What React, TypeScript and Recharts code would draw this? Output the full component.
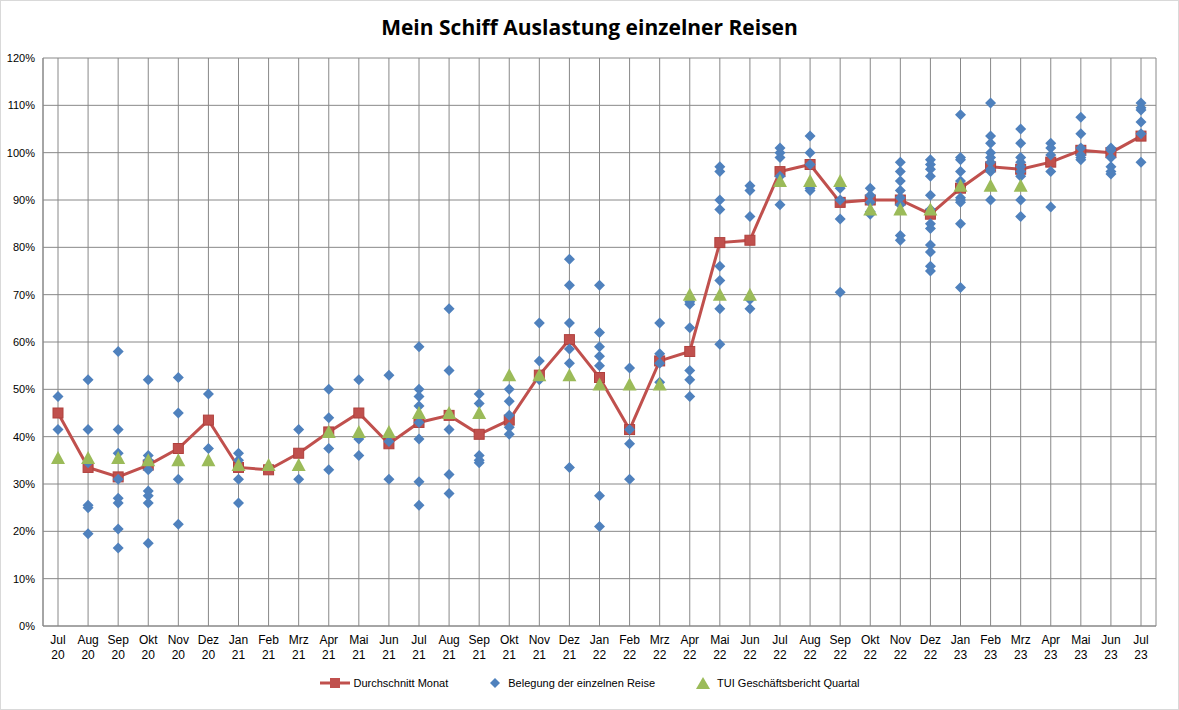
import React from 'react';
import { ComposedChart, Line, Scatter, XAxis, YAxis, CartesianGrid } from 'recharts';

const months = ['Jul 20', 'Aug 20', 'Sep 20', 'Okt 20', 'Nov 20', 'Dez 20', 'Jan 21', 'Feb 21', 'Mrz 21', 'Apr 21', 'Mai 21', 'Jun 21', 'Jul 21', 'Aug 21', 'Sep 21', 'Okt 21', 'Nov 21', 'Dez 21', 'Jan 22', 'Feb 22', 'Mrz 22', 'Apr 22', 'Mai 22', 'Jun 22', 'Jul 22', 'Aug 22', 'Sep 22', 'Okt 22', 'Nov 22', 'Dez 22', 'Jan 23', 'Feb 23', 'Mrz 23', 'Apr 23', 'Mai 23', 'Jun 23', 'Jul 23'];

const durchschnitt = [45, 33.5, 31.5, 34, 37.5, 43.5, 33.5, 33, 36.5, 41, 45, 38.5, 43, 44.5, 40.5, 43.5, 53, 60.5, 52.5, 41.5, 56, 58, 81, 81.5, 96, 97.5, 89.5, 90, 90, 87, 92.5, 97, 96.5, 98, 100.5, 100, 103.5];

const tuiQuartal: (number | null)[] = [35.5, 35.5, 35.5, 35, 35, 35, 34, 34, 34, 41, 41, 41, 45, 45, 45, 53, 53, 53, 51, 51, 51, 70, 70, 70, 94, 94, 94, 88, 88, 88, 93, 93, 93, null, null, null, null];

const reisen: number[][] = [
  [48.5, 41.5],
  [52, 41.5, 34.5, 25.5, 25, 19.5],
  [58, 41.5, 36.5, 31, 27, 26, 20.5, 16.5],
  [52, 36, 35, 33, 28.5, 27.5, 26, 17.5],
  [52.5, 45, 31, 21.5],
  [49, 37.5],
  [36.5, 35, 31, 26],
  [],
  [41.5, 31],
  [50, 44, 37.5, 33],
  [52, 39.5, 36],
  [53, 39, 31],
  [59, 50, 48.5, 46.5, 43, 39.5, 30.5, 25.5],
  [67, 54, 41.5, 32, 28],
  [49, 47, 36, 35, 34.5],
  [50, 47.5, 44.5, 42, 40.5],
  [64, 56, 52],
  [77.5, 72, 64, 58.5, 55.5, 33.5],
  [72, 62, 59, 57, 55, 27.5, 21],
  [54.5, 41.5, 38.5, 31],
  [64, 57.5, 55.5, 51.5],
  [68.5, 68, 63, 54, 52, 48.5],
  [97, 96, 90, 88, 76, 73, 67, 59.5],
  [93, 92, 86.5, 69, 67],
  [101, 100, 99, 95, 89],
  [103.5, 100, 97.5, 92.5, 92],
  [93, 92.5, 90, 86, 70.5],
  [92.5, 91, 89.5, 87.5, 87],
  [98, 96, 94, 92, 90.5, 89, 82.5, 81.5],
  [98.5, 97.5, 96.5, 95, 91, 88, 85, 84, 80.5, 79, 76, 75],
  [108, 99, 98.5, 96, 94, 90.5, 90, 89.5, 85, 71.5],
  [110.5, 103.5, 102, 100, 99, 98, 96.5, 96, 90],
  [105, 102, 99, 98, 97, 96, 95, 90, 86.5],
  [102, 101, 99.5, 96, 88.5],
  [107.5, 104, 101, 99.5, 99, 98.5],
  [101, 100.5, 99, 97, 96, 95.5],
  [110.5, 109.5, 109, 106.5, 104, 98],
];

const yTicks = [0, 10, 20, 30, 40, 50, 60, 70, 80, 90, 100, 110, 120];

const maxReisen = Math.max(...reisen.map((r) => r.length));
const reiseKeys = Array.from({ length: maxReisen }, (_, i) => `r${i}`);

const data = months.map((m, i) => {
  const row: Record<string, any> = { month: m, avg: durchschnitt[i], tui: tuiQuartal[i] };
  reisen[i].forEach((v, k) => { row[`r${k}`] = v; });
  return row;
});

const FONT = '"Liberation Sans", Arial, sans-serif';

const MonthTick = (props: any) => {
  const { x, y, payload } = props;
  const [m, yr] = String(payload.value).split(' ');
  return (
    <text x={x} y={y + 10} textAnchor="middle" fontSize={12} fill="#000" fontFamily={FONT}>
      <tspan x={x} dy={0}>{m}</tspan>
      <tspan x={x} dy={15}>{yr}</tspan>
    </text>
  );
};

const Square = (props: any) => {
  const { cx, cy } = props;
  if (cx == null || cy == null) return null;
  return <rect x={cx - 5} y={cy - 5} width={10} height={10} fill="#c0504d" stroke="#b0403d" />;
};

const Triangle = (props: any) => {
  const { cx, cy } = props;
  if (cx == null || cy == null) return null;
  return <polygon points={`${cx},${cy - 7} ${cx + 7},${cy + 6} ${cx - 7},${cy + 6}`} fill="#9bbb59" />;
};

const Diamond = (props: any) => {
  const { cx, cy } = props;
  if (cx == null || cy == null) return null;
  return <polygon points={`${cx},${cy - 5.5} ${cx + 5.5},${cy} ${cx},${cy + 5.5} ${cx - 5.5},${cy}`} fill="#4f81bd" />;
};

export default function App() {
  return (
    <div style={{ position: 'absolute', left: 0, top: 0, width: 1179, height: 710, background: '#fff', border: '1px solid #d9d9d9', boxSizing: 'border-box', fontFamily: FONT }}>
      <div style={{ position: 'absolute', top: 12, width: '100%', textAlign: 'center', fontSize: 21, fontWeight: 'bold', fontFamily: '"Open Sans", sans-serif' }}>
        Mein Schiff Auslastung einzelner Reisen
      </div>
      <ComposedChart width={1179} height={710} data={data} margin={{ top: 57, right: 24, bottom: 55, left: 0 }}>
        <CartesianGrid stroke="#888" strokeWidth={1} />
        <XAxis dataKey="month" interval={0} padding={{ left: 15, right: 15 }} height={30} tick={<MonthTick />} axisLine={{ stroke: '#888' }} tickLine={false} />
        <YAxis domain={[0, 120]} ticks={yTicks} width={42} tickFormatter={(v) => `${v}%`} tick={{ fontSize: 11, fill: '#000', fontFamily: FONT }} axisLine={{ stroke: '#888' }} tickLine={false} />
        <YAxis yAxisId="r" orientation="right" domain={[0, 120]} width={0} tick={false} axisLine={{ stroke: '#888' }} tickLine={false} />
        <Line dataKey="avg" stroke="#c0504d" strokeWidth={3} dot={<Square />} isAnimationActive={false} />
        {reiseKeys.map((k) => (
          <Scatter key={k} dataKey={k} shape={<Diamond />} isAnimationActive={false} />
        ))}
        <Scatter dataKey="tui" shape={<Triangle />} isAnimationActive={false} />
      </ComposedChart>
      <div style={{ position: 'absolute', top: 676, left: 0, width: '100%', display: 'flex', justifyContent: 'center', fontSize: 11, gap: 40 }}>
        <span style={{ display: 'flex', alignItems: 'center' }}>
          <svg width={30} height={12}><line x1={0} y1={6} x2={30} y2={6} stroke="#c0504d" strokeWidth={3} /><rect x={10} y={1} width={10} height={10} fill="#c0504d" /></svg>
          <span style={{ marginLeft: 4 }}>Durchschnitt Monat</span>
        </span>
        <span style={{ display: 'flex', alignItems: 'center' }}>
          <svg width={14} height={12}><polygon points="7,1 12,6 7,11 2,6" fill="#4f81bd" /></svg>
          <span style={{ marginLeft: 6 }}>Belegung der einzelnen Reise</span>
        </span>
        <span style={{ display: 'flex', alignItems: 'center' }}>
          <svg width={16} height={12}><polygon points="8,0 15,12 1,12" fill="#9bbb59" /></svg>
          <span style={{ marginLeft: 6 }}>TUI Geschäftsbericht Quartal</span>
        </span>
      </div>
    </div>
  );
}
